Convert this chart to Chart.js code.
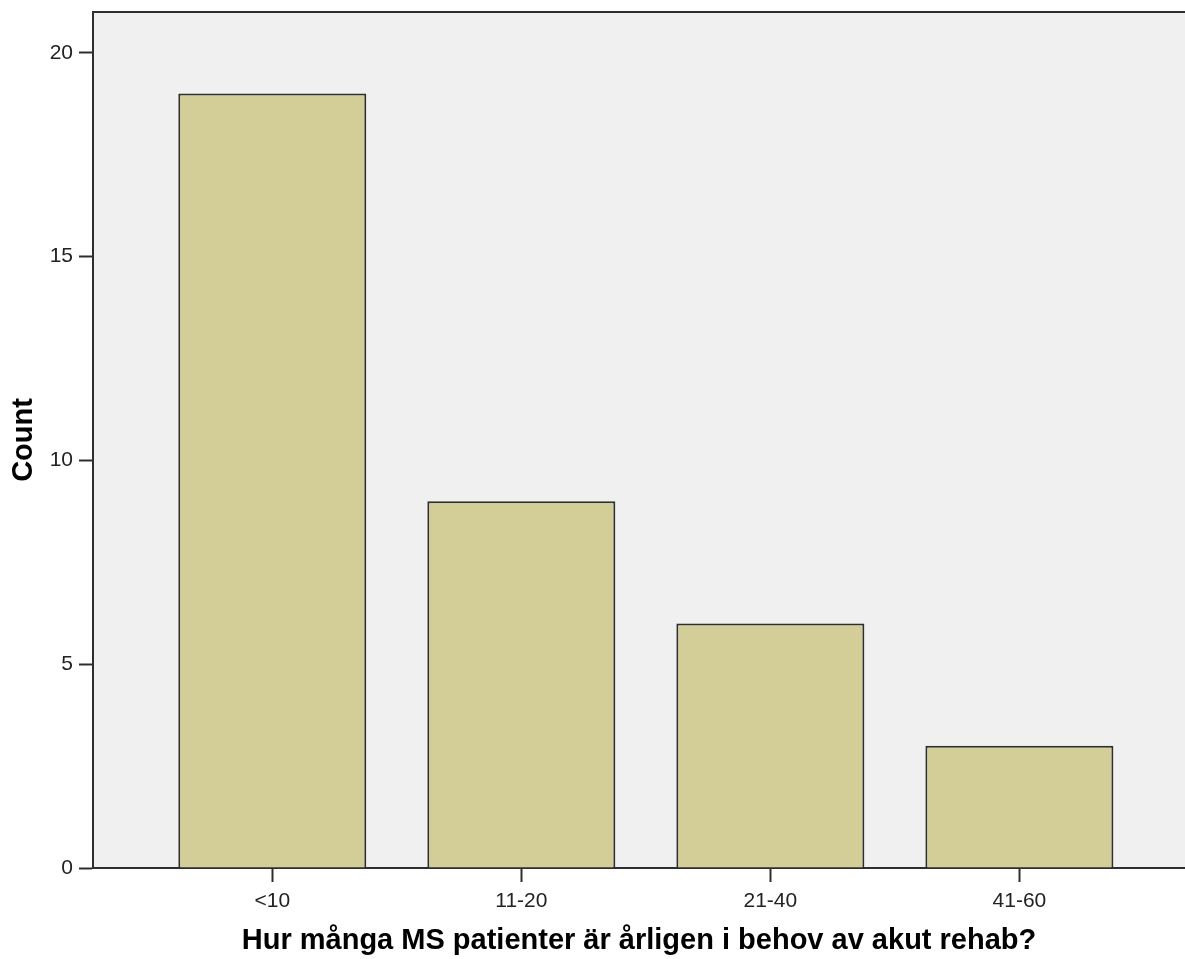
<!DOCTYPE html>
<html>
<head>
<meta charset="utf-8">
<script src="https://cdn.jsdelivr.net/npm/chart.js@4.4.1/dist/chart.umd.min.js"></script>
<style>
  html, body { margin: 0; padding: 0; background: #ffffff; }
  #wrap { width: 1185px; height: 959px; position: relative; }
</style>
</head>
<body>
<div id="wrap"><canvas id="c"></canvas></div>
<script>
const categories = ['<10', '11-20', '21-40', '41-60'];
const counts = [19, 9, 6, 3];
const yTicks = [0, 5, 10, 15, 20];
const xTitle = 'Hur många MS patienter är årligen i behov av akut rehab?';
const yTitle = 'Count';

const FONT = "'Liberation Sans', Arial, sans-serif";
const AXIS = '#2e2e2e';

const plotBg = {
  id: 'plotBg',
  beforeDraw(chart) {
    const { ctx, chartArea: a } = chart;
    ctx.save();
    ctx.fillStyle = '#f0f0f0';
    ctx.fillRect(a.left, a.top, a.right - a.left, a.bottom - a.top);
    ctx.restore();
  },
  afterDraw(chart) {
    const { ctx, chartArea: a } = chart;
    ctx.save();
    ctx.strokeStyle = AXIS;
    ctx.lineWidth = 2;
    ctx.beginPath();
    ctx.moveTo(a.left, a.top);
    ctx.lineTo(a.right, a.top);
    ctx.stroke();
    ctx.restore();
  }
};

new Chart(document.getElementById('c'), {
  type: 'bar',
  data: {
    datasets: [{
      data: counts.map((v, i) => ({ x: i, y: v })),
      backgroundColor: '#d3ce97',
      borderColor: '#2f2f2f',
      borderWidth: 2,
      borderSkipped: 'start',
      categoryPercentage: 1,
      barPercentage: 0.755
    }]
  },
  options: {
    responsive: true,
    maintainAspectRatio: false,
    animation: false,
    layout: { padding: { top: 12, left: 0, right: 0, bottom: 0 } },
    plugins: { legend: { display: false }, tooltip: { enabled: false } },
    scales: {
      x: {
        type: 'linear',
        offset: false,
        min: -0.72,
        max: 3.665,
        grid: { offset: false, drawOnChartArea: false, drawTicks: true, tickLength: 14, tickColor: AXIS, tickWidth: 2 },
        border: { display: true, color: AXIS, width: 2 },
        afterBuildTicks: s => { s.ticks = categories.map((_, i) => ({ value: i })); },
        ticks: {
          autoSkip: false,
          maxRotation: 0,
          padding: 7,
          color: '#222222',
          font: { family: FONT, size: 21 },
          callback: v => categories[v]
        },
        title: {
          display: true,
          text: xTitle,
          color: '#000000',
          font: { family: FONT, size: 29, weight: 'bold' },
          padding: { top: 0, bottom: 1 }
        },
        afterFit: s => { s.height = 91; s.paddingLeft = 0; s.paddingRight = 0; }
      },
      y: {
        min: 0,
        max: 21,
        grid: { drawOnChartArea: false, drawTicks: true, tickLength: 14, tickColor: AXIS, tickWidth: 2 },
        border: { display: true, color: AXIS, width: 2 },
        afterBuildTicks: s => { s.ticks = yTicks.map(v => ({ value: v })); },
        ticks: {
          padding: 6,
          color: '#222222',
          font: { family: FONT, size: 21 }
        },
        title: {
          display: true,
          text: yTitle,
          color: '#000000',
          font: { family: FONT, size: 29, weight: 'bold' },
          padding: { top: 7, bottom: 0 }
        },
        afterFit: s => { s.width = 93; s.paddingTop = 0; s.paddingBottom = 0; }
      }
    }
  },
  plugins: [plotBg]
});
</script>
</body>
</html>
